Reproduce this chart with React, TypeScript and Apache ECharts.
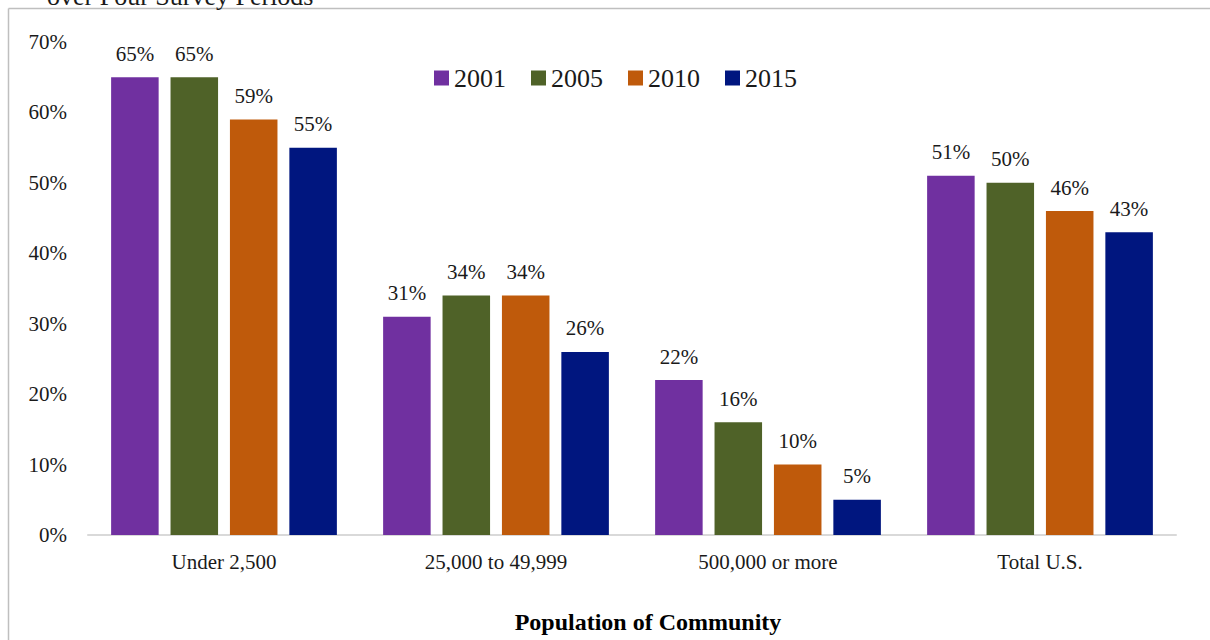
import React, { useEffect, useRef } from "react";
import * as echarts from "echarts";

const categories = ["Under 2,500", "25,000 to 49,999", "500,000 or more", "Total U.S."];
const seriesNames = ["2001", "2005", "2010", "2015"];
const values2001 = [65, 31, 22, 51];
const values2005 = [65, 34, 16, 50];
const values2010 = [59, 34, 10, 46];
const values2015 = [55, 26, 5, 43];
const colors = ["#7030A0", "#4F6228", "#BF5A0B", "#00167F"];
const yTicks = { min: 0, max: 70, interval: 10 };

const FONT = "Liberation Serif";

export default function App() {
  const ref = useRef<HTMLDivElement>(null);
  useEffect(() => {
    document.body.style.margin = "0";
    document.body.style.overflow = "hidden";
    const chart = echarts.init(ref.current!, null, { renderer: "svg" });
    const allValues = [values2001, values2005, values2010, values2015];
    chart.setOption({
      animation: false,
      backgroundColor: "#ffffff",
      textStyle: { fontFamily: FONT },
      grid: { left: 88, right: 34, top: 42, bottom: 105, containLabel: false },
      legend: {
        data: seriesNames,
        left: 429,
        top: 60,
        itemWidth: 15,
        itemHeight: 15,
        itemGap: 25,
        icon: "rect",
        textStyle: { fontFamily: FONT, fontSize: 26, color: "#1a1a1a" },
      },
      xAxis: {
        type: "category",
        data: categories,
        axisLine: { lineStyle: { color: "#d9d9d9", width: 2 } },
        axisTick: { show: false },
        axisLabel: { fontFamily: FONT, fontSize: 21, color: "#1a1a1a", margin: 16 },
      },
      yAxis: {
        type: "value",
        min: yTicks.min,
        max: yTicks.max,
        interval: yTicks.interval,
        axisLine: { show: false },
        axisTick: { show: false },
        splitLine: { show: false },
        axisLabel: { fontFamily: FONT, fontSize: 21, color: "#1a1a1a", margin: 21, formatter: "{value}%" },
      },
      series: seriesNames.map((name, i) => ({
        name,
        type: "bar",
        data: allValues[i],
        barGap: "25%",
        barCategoryGap: "17%",
        itemStyle: { color: colors[i] },
        label: {
          show: true,
          position: "top",
          distance: 13,
          formatter: "{c}%",
          fontFamily: FONT,
          fontSize: 21,
          color: "#1a1a1a",
        },
      })),
      graphic: [
        { type: "line", shape: { x1: 8.5, y1: 8.5, x2: 1210, y2: 8.5 }, style: { stroke: "#bfbfbf", lineWidth: 1.5 } },
        { type: "line", shape: { x1: 8.5, y1: 8.5, x2: 8.5, y2: 640 }, style: { stroke: "#bfbfbf", lineWidth: 1.5 } },
        {
          type: "text",
          left: 47,
          top: -17,
          style: { text: "over Four Survey Periods", fontFamily: FONT, fontSize: 26, fill: "#1a1a1a" },
        },
        {
          type: "text",
          x: 648,
          y: 622,
          style: {
            text: "Population of Community",
            fontFamily: FONT,
            fontSize: 24,
            fontWeight: "bold",
            fill: "#000000",
            align: "center",
            verticalAlign: "middle",
          },
        },
      ],
    });
    return () => chart.dispose();
  }, []);
  return <div ref={ref} style={{ width: 1210, height: 640 }} />;
}
